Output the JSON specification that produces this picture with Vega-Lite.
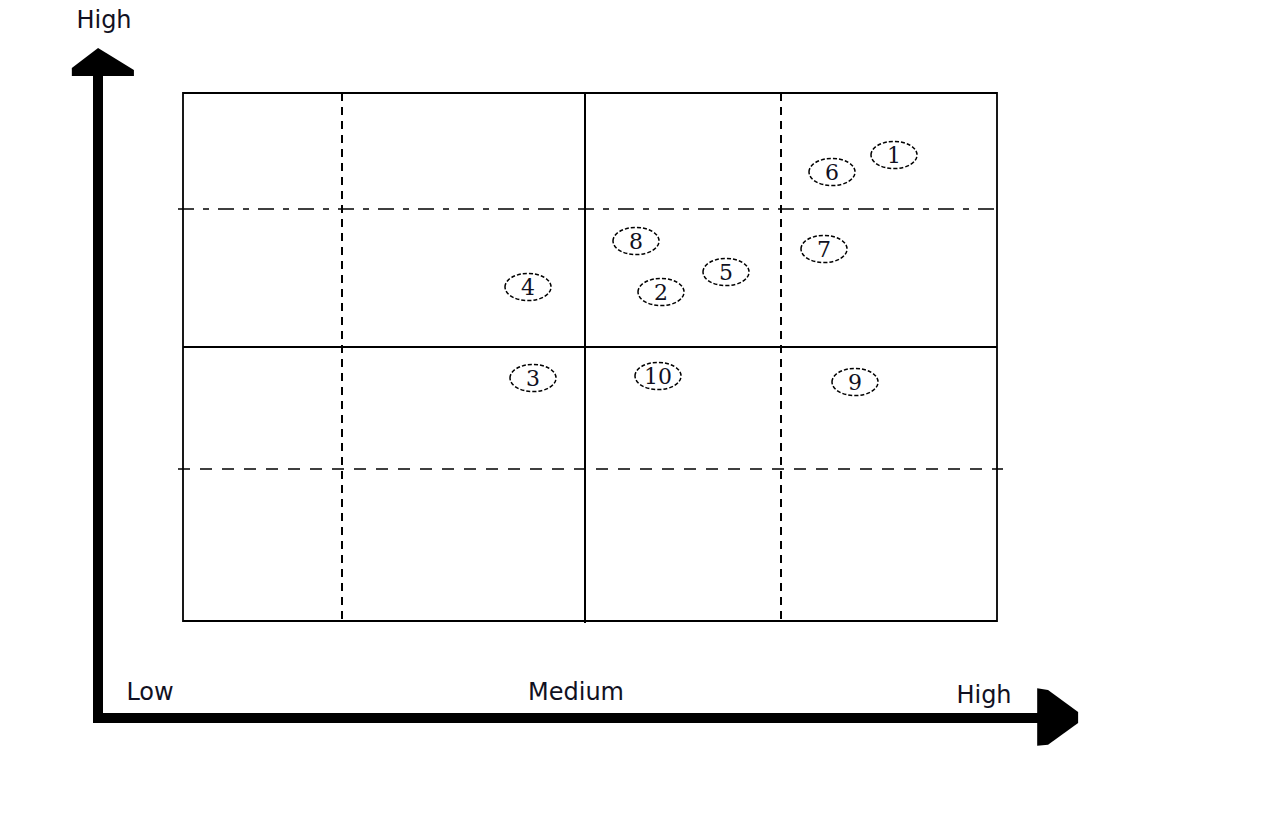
{
  "$schema": "https://vega.github.io/schema/vega-lite/v6.json",
  "autosize": {"type": "fit", "contains": "padding"},
  "width": 1280,
  "height": 817,
  "padding": 0,
  "background": "white",
  "config": {"view": {"stroke": null}},
  "datasets": {
    "box": [{"x": 18.3, "x2": 99.7, "y": 9.3, "y2": 62.1}],
    "solid": [
      {"x": 58.5, "x2": 58.5, "y": 9.3, "y2": 62.3},
      {"x": 18.3, "x2": 99.7, "y": 34.7, "y2": 34.7}
    ],
    "vdash": [
      {"x": 34.2, "x2": 34.2, "y": 9.3, "y2": 62.1},
      {"x": 78.1, "x2": 78.1, "y": 9.3, "y2": 62.1}
    ],
    "dashdot": [{"x": 17.8, "x2": 100.0, "y": 20.9, "y2": 20.9}],
    "hdash": [{"x": 17.8, "x2": 100.3, "y": 46.9, "y2": 46.9}],
    "axes": [
      {"x": 9.8, "x2": 9.8, "y": 7.2, "y2": 72.3},
      {"x": 9.3, "x2": 103.8, "y": 71.8, "y2": 71.8}
    ],
    "headUp": [{"x": 10.0, "y": 6.2}],
    "headRight": [{"x": 105.7, "y": 71.7}],
    "labels": [
      {"label": "High", "x": 10.4, "y": 2.8},
      {"label": "Low", "x": 15.0, "y": 70.0},
      {"label": "Medium", "x": 57.6, "y": 70.0},
      {"label": "High", "x": 98.4, "y": 70.3}
    ],
    "items": [
      {"id": "1", "x": 89.4, "y": 15.5},
      {"id": "2", "x": 66.1, "y": 29.2},
      {"id": "3", "x": 53.3, "y": 37.8},
      {"id": "4", "x": 52.8, "y": 28.7},
      {"id": "5", "x": 72.6, "y": 27.2},
      {"id": "6", "x": 83.2, "y": 17.2},
      {"id": "7", "x": 82.4, "y": 24.9},
      {"id": "8", "x": 63.6, "y": 24.1},
      {"id": "9", "x": 85.5, "y": 38.2},
      {"id": "10", "x": 65.8, "y": 37.6}
    ]
  },
  "encoding": {
    "x": {"field": "x", "type": "quantitative", "scale": {"domain": [0, 128], "nice": false, "zero": false}, "axis": null},
    "y": {"field": "y", "type": "quantitative", "scale": {"domain": [0, 81.7], "nice": false, "zero": false, "reverse": true}, "axis": null}
  },
  "layer": [
    {
      "data": {"name": "box"},
      "mark": {"type": "rect", "fill": null, "stroke": "black", "strokeWidth": 1.8},
      "encoding": {"x2": {"field": "x2"}, "y2": {"field": "y2"}}
    },
    {
      "data": {"name": "solid"},
      "mark": {"type": "rule", "stroke": "black", "strokeWidth": 2},
      "encoding": {"x2": {"field": "x2"}, "y2": {"field": "y2"}}
    },
    {
      "data": {"name": "vdash"},
      "mark": {"type": "rule", "stroke": "black", "strokeWidth": 2, "strokeDash": [8, 6]},
      "encoding": {"x2": {"field": "x2"}, "y2": {"field": "y2"}}
    },
    {
      "data": {"name": "dashdot"},
      "mark": {"type": "rule", "stroke": "black", "strokeWidth": 1.5, "strokeDash": [16, 9, 6, 9]},
      "encoding": {"x2": {"field": "x2"}, "y2": {"field": "y2"}}
    },
    {
      "data": {"name": "hdash"},
      "mark": {"type": "rule", "stroke": "black", "strokeWidth": 1.5, "strokeDash": [12, 10]},
      "encoding": {"x2": {"field": "x2"}, "y2": {"field": "y2"}}
    },
    {
      "data": {"name": "axes"},
      "mark": {"type": "rule", "stroke": "black", "strokeWidth": 10, "strokeCap": "butt"},
      "encoding": {"x2": {"field": "x2"}, "y2": {"field": "y2"}}
    },
    {
      "data": {"name": "headUp"},
      "mark": {"type": "point", "filled": true, "fill": "black", "stroke": null, "opacity": 1, "size": 4096,
        "shape": "M -0.06 -0.44 L -0.88 0.19 L -0.88 0.44 L 1.06 0.44 L 1.06 0.25 Z"}
    },
    {
      "data": {"name": "headRight"},
      "mark": {"type": "point", "filled": true, "fill": "black", "stroke": null, "opacity": 1, "size": 4096,
        "shape": "M -0.62 -0.9 L -0.28 -0.84 L 0.66 -0.16 L 0.66 0.19 L -0.28 0.87 L -0.62 0.9 Z"}
    },
    {
      "data": {"name": "labels"},
      "mark": {"type": "text", "font": "DejaVu Sans", "fontSize": 24, "align": "center", "baseline": "alphabetic", "color": "#111122"},
      "encoding": {"text": {"field": "label"}}
    },
    {
      "data": {"name": "items"},
      "mark": {"type": "point", "filled": false, "fill": null, "stroke": "black", "strokeWidth": 1.5, "strokeDash": [4, 2], "opacity": 1, "size": 2116,
        "shape": "M -1 0 C -1 -0.33 -0.55 -0.59 0 -0.59 C 0.55 -0.59 1 -0.33 1 0 C 1 0.33 0.55 0.59 0 0.59 C -0.55 0.59 -1 0.33 -1 0 Z"}
    },
    {
      "data": {"name": "items"},
      "mark": {"type": "text", "font": "DejaVu Serif", "fontSize": 22, "align": "center", "baseline": "middle", "dy": 1, "color": "#111122"},
      "encoding": {"text": {"field": "id"}}
    }
  ]
}
